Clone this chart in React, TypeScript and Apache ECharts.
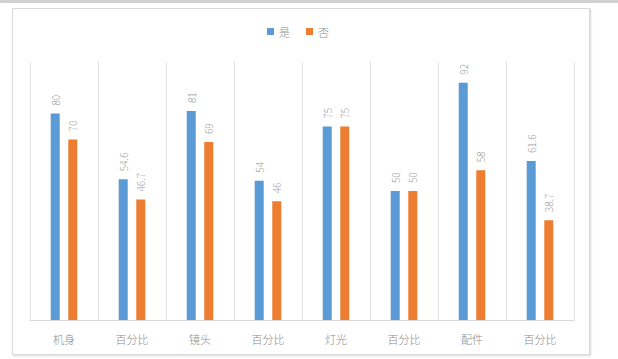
import React, { useEffect, useRef } from "react";
import * as echarts from "echarts";

const categories = ["机身", "百分比", "镜头", "百分比", "灯光", "百分比", "配件", "百分比"];
const seriesNames = ["是", "否"];
const yesValues = [80, 54.6, 81, 54, 75, 50, 92, 61.6];
const noValues = [70, 46.7, 69, 46, 75, 50, 58, 38.7];

export default function App() {
  const ref = useRef<HTMLDivElement>(null);
  useEffect(() => {
    if (!ref.current) return;
    const chart = echarts.init(ref.current, null, { renderer: "svg" });
    const font = '"Noto Sans CJK SC", sans-serif';
    const labelCfg = {
      show: true,
      position: "top",
      rotate: 90,
      align: "left",
      verticalAlign: "middle",
      distance: 8,
      color: "#999999",
      fontSize: 10,
      fontFamily: font,
      fontWeight: 300,
    };
    chart.setOption({
      animation: false,
      legend: {
        data: seriesNames,
        left: 262,
        top: 21,
        itemWidth: 7,
        itemHeight: 7,
        itemGap: 16,
        icon: "rect",
        textStyle: { color: "#8c8c8c", fontSize: 11, fontFamily: font, fontWeight: 300 },
      },
      grid: { left: 30, right: 44, top: 62, bottom: 39 },
      xAxis: {
        type: "category",
        data: categories,
        axisLine: { lineStyle: { color: "#d9d9d9" } },
        axisTick: { show: false },
        axisLabel: { color: "#8c8c8c", fontSize: 11, margin: 13, fontFamily: font, fontWeight: 300, interval: 0 },
        splitLine: { show: true, lineStyle: { color: "#e3e3e3" } },
      },
      yAxis: {
        type: "value",
        min: 0,
        max: 100,
        show: false,
        splitLine: { show: false },
      },
      series: [
        {
          name: seriesNames[0],
          type: "bar",
          data: yesValues,
          barWidth: 9,
          barGap: "95%",
          itemStyle: { color: "#5b9bd5" },
          label: labelCfg,
        },
        {
          name: seriesNames[1],
          type: "bar",
          data: noValues,
          barWidth: 9,
          itemStyle: { color: "#ed7d31" },
          label: labelCfg,
        },
      ],
    });
    return () => chart.dispose();
  }, []);
  return (
    <div style={{ position: "fixed", left: 0, top: 0, width: 618, height: 359, background: "#fff", overflow: "hidden" }}>
      <div style={{ position: "absolute", left: 0, top: 0, width: 618, height: 3, background: "#d0d0d0" }} />
      <div
        style={{
          position: "absolute",
          left: 12,
          top: 8,
          width: 576,
          height: 345,
          border: "1px solid #d9d9d9",
          boxShadow: "1px 1px 2px rgba(0,0,0,0.15)",
          background: "#fff",
        }}
      />
      <div ref={ref} style={{ position: "absolute", left: 0, top: 0, width: 618, height: 359 }} />
    </div>
  );
}
